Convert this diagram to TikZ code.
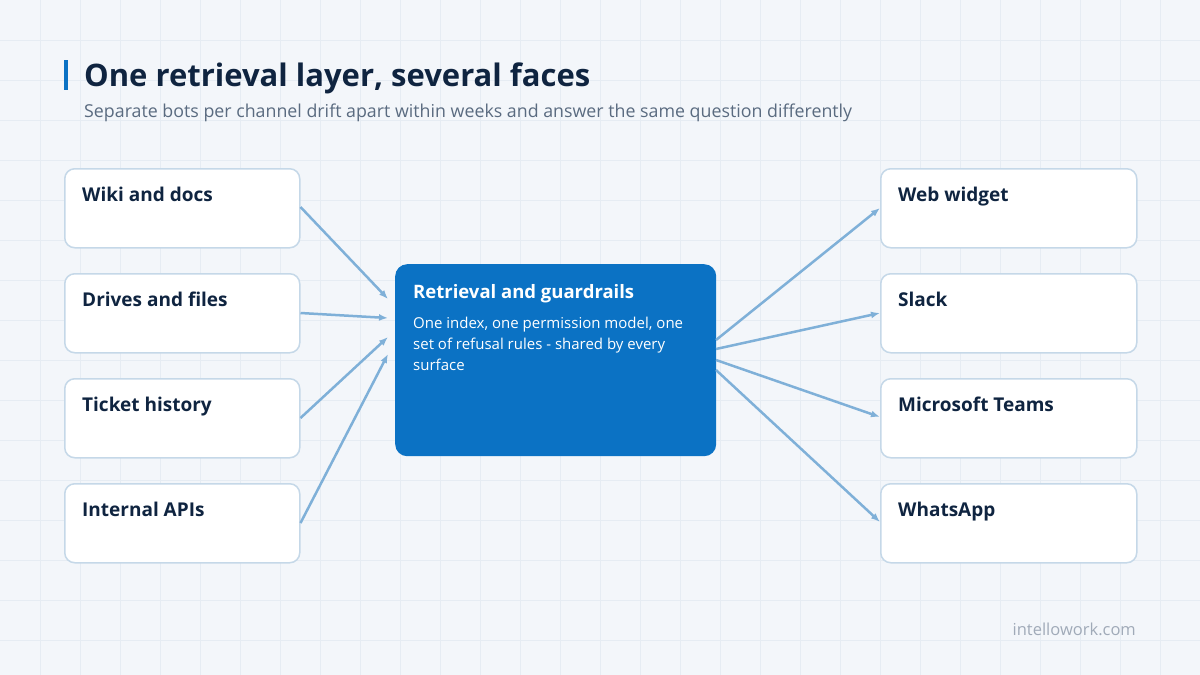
\documentclass[tikz,border=0pt]{standalone}
\usepackage{fontspec}
\setmainfont{Open Sans}
\usetikzlibrary{arrows.meta}
\definecolor{bg}{HTML}{F3F6FA}
\definecolor{gridc}{HTML}{E6ECF3}
\definecolor{navy}{HTML}{0F2440}
\definecolor{sub}{HTML}{5A6B80}
\definecolor{blu}{HTML}{0B72C4}
\definecolor{arr}{HTML}{7FB0D8}
\definecolor{bord}{HTML}{C5D8E8}
\definecolor{foot}{HTML}{A0AAB8}
\begin{document}
\begin{tikzpicture}[x=1pt,y=-1pt,
  card/.style={draw=bord,line width=1.5pt,fill=white,rounded corners=10pt,minimum width=235pt,minimum height=79pt,anchor=north west},
  lab/.style={anchor=north west,text=navy,font=\bfseries\fontsize{19}{22}\selectfont,inner sep=0pt},
  con/.style={draw=arr,line width=2.5pt,-{Latex[length=9pt,width=7pt]}}]
\fill[bg] (0,0) rectangle (1200,675);
\useasboundingbox (0,0) rectangle (1200,675);
\foreach \x in {40,80,...,1160} \draw[gridc,line width=0.6pt] (\x,0)--(\x,675);
\foreach \y in {40,80,...,640} \draw[gridc,line width=0.6pt] (0,\y)--(1200,\y);
\fill[blu] (64,60) rectangle (68,90);
\node[anchor=base west,inner sep=0pt,text=navy,font=\bfseries\fontsize{31}{34}\selectfont] (title) at (84,86) {One retrieval layer, several faces};
\node[anchor=base west,inner sep=0pt,text=sub,font=\fontsize{17.8}{20}\selectfont] (subt) at (84,117) {Separate bots per channel drift apart within weeks and answer the same question differently};
\foreach \n/\t/\y in {l1/Wiki and docs/168,l2/Drives and files/273,l3/Ticket history/378,l4/Internal APIs/483}{
  \node[card] (\n) at (64,\y) {};
  \node[lab] at (82,\y+19) {\t};}
\foreach \n/\t/\y in {r1/Web widget/168,r2/Slack/273,r3/Microsoft Teams/378,r4/WhatsApp/483}{
  \node[card,minimum width=256pt] (\n) at (880,\y) {};
  \node[lab] at (898,\y+19) {\t};}
\node[fill=blu,rounded corners=12pt,minimum width=321pt,minimum height=192pt,anchor=north west] (c) at (395,264) {};
\node[anchor=north west,inner sep=0pt,text=white,font=\bfseries\fontsize{18.5}{20}\selectfont] (ct) at (413,284) {Retrieval and guardrails};
\node[anchor=north west,inner sep=0pt,text=white,align=left,font=\fontsize{15}{21}\selectfont] (cb) at (413,317) {One index, one permission model, one\\set of refusal rules - shared by every\\surface};
\coordinate (a1) at (388,299); \coordinate (a2) at (388,318); \coordinate (a3) at (388,337); \coordinate (a4) at (388,354);
\draw[con] (l1.east|-0,207) -- (a1);
\draw[con] (l2.east|-0,313) -- (a2);
\draw[con] (l3.east|-0,418) -- (a3);
\draw[con] (l4.east|-0,523) -- (a4);
\coordinate (b1) at (716,340); \coordinate (b2) at (716,349); \coordinate (b3) at (716,360); \coordinate (b4) at (716,370);
\draw[con] (b1) -- (r1.west|-0,208);
\draw[con] (b2) -- (r2.west|-0,313);
\draw[con] (b3) -- (r3.west|-0,417);
\draw[con] (b4) -- (r4.west|-0,522);
\node[anchor=base east,inner sep=0pt,text=foot,font=\fontsize{16.5}{20}\selectfont] (ft) at (1136,635) {intellowork.com};
\end{tikzpicture}
\end{document}
